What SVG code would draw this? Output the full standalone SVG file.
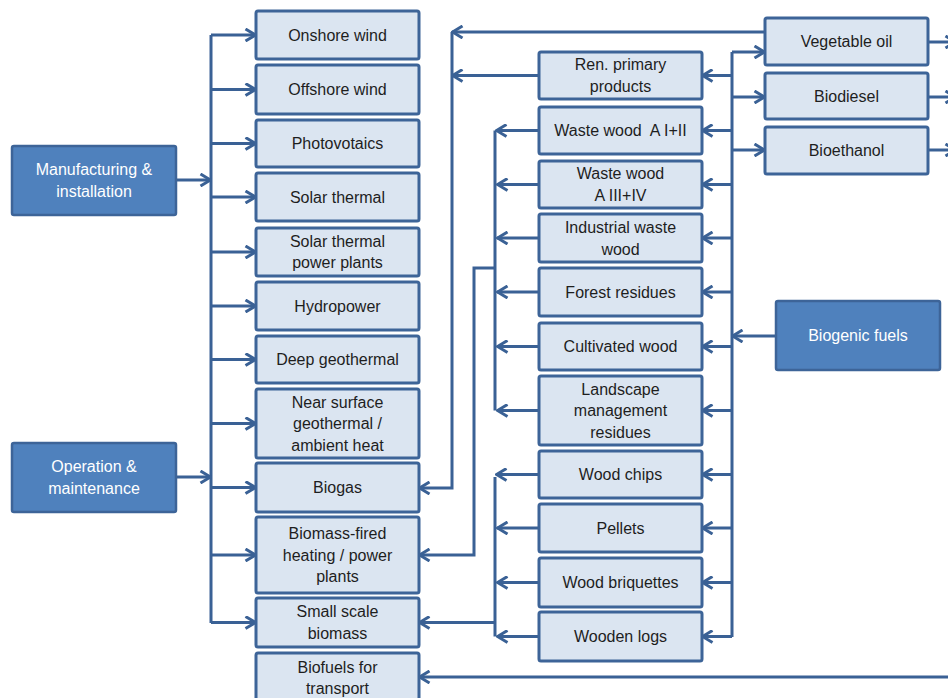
<svg xmlns="http://www.w3.org/2000/svg" width="948" height="698" viewBox="0 0 948 698">
<style>
.box{fill:#dbe5f1;stroke:#3d6498;stroke-width:3}
.dark{fill:#4f81bd;stroke:#3d6498;stroke-width:2.5}
.t{font-family:"Liberation Sans",Arial,sans-serif;font-size:16px;fill:#1e1e1e;text-anchor:middle}
.w{fill:#ffffff}
.c{fill:none;stroke:#3a6195;stroke-width:3;stroke-linejoin:miter}
.a{marker-end:url(#ah)}
</style>
<defs>
<marker id="ah" viewBox="0 0 13 14" refX="12" refY="7" markerWidth="13" markerHeight="14" markerUnits="userSpaceOnUse" orient="auto">
<path d="M1.5,1 L11.5,7 L1.5,13" fill="none" stroke="#3a6195" stroke-width="3"/>
</marker>
</defs>
<rect width="948" height="698" fill="#ffffff"/>
<g id="connectors">
<path class="c" d="M211,35 V623"/>
<path class="c a" d="M176,180 H211"/>
<path class="c a" d="M176,477 H211"/>
<path class="c a" d="M211,35 H256"/>
<path class="c a" d="M211,89.5 H256"/>
<path class="c a" d="M211,143.5 H256"/>
<path class="c a" d="M211,197 H256"/>
<path class="c a" d="M211,252 H256"/>
<path class="c a" d="M211,306 H256"/>
<path class="c a" d="M211,359.5 H256"/>
<path class="c a" d="M211,423.5 H256"/>
<path class="c a" d="M211,487.5 H256"/>
<path class="c a" d="M211,555 H256"/>
<path class="c a" d="M211,622.5 H256"/>
<path class="c a" d="M765,32 H452"/>
<path class="c a" d="M539,75.5 H452"/>
<path class="c a" d="M452,32 V488 H419"/>
<path class="c" d="M732,52 V637"/>
<path class="c a" d="M732,52 H765"/>
<path class="c a" d="M732,97 H765"/>
<path class="c a" d="M732,150 H765"/>
<path class="c a" d="M776,336 H732"/>
<path class="c a" d="M732,75.5 H702"/>
<path class="c a" d="M732,130.5 H702"/>
<path class="c a" d="M732,184.5 H702"/>
<path class="c a" d="M732,238 H702"/>
<path class="c a" d="M732,292 H702"/>
<path class="c a" d="M732,346.5 H702"/>
<path class="c a" d="M732,410.5 H702"/>
<path class="c a" d="M732,474.5 H702"/>
<path class="c a" d="M732,528 H702"/>
<path class="c a" d="M732,582.5 H702"/>
<path class="c a" d="M732,636.5 H702"/>
<path class="c a" d="M928,42 H956"/>
<path class="c a" d="M928,97 H956"/>
<path class="c a" d="M928,150 H956"/>
<path class="c" d="M495,130.5 V410.5"/>
<path class="c a" d="M539,130.5 H496"/>
<path class="c a" d="M539,184.5 H497"/>
<path class="c a" d="M539,238 H497"/>
<path class="c a" d="M539,292 H497"/>
<path class="c a" d="M539,346.5 H497"/>
<path class="c a" d="M539,410.5 H497"/>
<path class="c a" d="M495,268 H474 V555 H419"/>
<path class="c" d="M495,477 V636.5"/>
<path class="c a" d="M539,474.5 H496"/>
<path class="c a" d="M539,528 H497"/>
<path class="c a" d="M539,582.5 H497"/>
<path class="c a" d="M539,636.5 H497"/>
<path class="c a" d="M495,622.5 H419"/>
<path class="c a" d="M948,677 H419"/>
</g>
<g id="manufacturing"><rect class="dark" x="12" y="146" width="164" height="69" rx="2"/><text class="t w"><tspan x="94" y="175.25">Manufacturing &amp;</tspan><tspan x="94" y="196.75">installation</tspan></text></g>
<g id="operation"><rect class="dark" x="12" y="443" width="164" height="69" rx="2"/><text class="t w"><tspan x="94" y="472.25">Operation &amp;</tspan><tspan x="94" y="493.75">maintenance</tspan></text></g>
<g id="onshore"><rect class="box" x="256" y="11" width="163" height="48" rx="2"/><text class="t" x="337.5" y="40.5">Onshore wind</text></g>
<g id="offshore"><rect class="box" x="256" y="65" width="163" height="49" rx="2"/><text class="t" x="337.5" y="95">Offshore wind</text></g>
<g id="pv"><rect class="box" x="256" y="120" width="163" height="47" rx="2"/><text class="t" x="337.5" y="149">Photovotaics</text></g>
<g id="solarthermal"><rect class="box" x="256" y="173" width="163" height="48" rx="2"/><text class="t" x="337.5" y="202.5">Solar thermal</text></g>
<g id="solarpp"><rect class="box" x="256" y="228" width="163" height="48" rx="2"/><text class="t"><tspan x="337.5" y="246.75">Solar thermal</tspan><tspan x="337.5" y="268.25">power plants</tspan></text></g>
<g id="hydro"><rect class="box" x="256" y="282" width="163" height="48" rx="2"/><text class="t" x="337.5" y="311.5">Hydropower</text></g>
<g id="deepgeo"><rect class="box" x="256" y="336" width="163" height="47" rx="2"/><text class="t" x="337.5" y="365">Deep geothermal</text></g>
<g id="nearsurface"><rect class="box" x="256" y="389" width="163" height="69" rx="2"/><text class="t"><tspan x="337.5" y="407.5">Near surface</tspan><tspan x="337.5" y="429">geothermal /</tspan><tspan x="337.5" y="450.5">ambient heat</tspan></text></g>
<g id="biogas"><rect class="box" x="256" y="463" width="163" height="49" rx="2"/><text class="t" x="337.5" y="493">Biogas</text></g>
<g id="biomassfired"><rect class="box" x="256" y="517" width="163" height="76" rx="2"/><text class="t"><tspan x="337.5" y="539">Biomass-fired</tspan><tspan x="337.5" y="560.5">heating / power</tspan><tspan x="337.5" y="582">plants</tspan></text></g>
<g id="smallscale"><rect class="box" x="256" y="598" width="163" height="49" rx="2"/><text class="t"><tspan x="337.5" y="617.25">Small scale</tspan><tspan x="337.5" y="638.75">biomass</tspan></text></g>
<g id="biofuels"><rect class="box" x="256" y="653" width="163" height="52" rx="2"/><text class="t"><tspan x="337.5" y="672.5">Biofuels for</tspan><tspan x="337.5" y="694">transport</tspan></text></g>
<g id="renprimary"><rect class="box" x="539" y="52" width="163" height="47" rx="2"/><text class="t"><tspan x="620.5" y="70.25">Ren. primary</tspan><tspan x="620.5" y="91.75">products</tspan></text></g>
<g id="ww12"><rect class="box" x="539" y="107" width="163" height="47" rx="2"/><text class="t" x="620.5" y="136" style="white-space:pre">Waste wood  A I+II</text></g>
<g id="ww34"><rect class="box" x="539" y="161" width="163" height="47" rx="2"/><text class="t"><tspan x="620.5" y="178.5">Waste wood</tspan><tspan x="620.5" y="200.5">A III+IV</tspan></text></g>
<g id="industrial"><rect class="box" x="539" y="214" width="163" height="48" rx="2"/><text class="t"><tspan x="620.5" y="233">Industrial waste</tspan><tspan x="620.5" y="254.5">wood</tspan></text></g>
<g id="forest"><rect class="box" x="539" y="268" width="163" height="48" rx="2"/><text class="t" x="620.5" y="297.5">Forest residues</text></g>
<g id="cultivated"><rect class="box" x="539" y="323" width="163" height="47" rx="2"/><text class="t" x="620.5" y="352">Cultivated wood</text></g>
<g id="landscape"><rect class="box" x="539" y="376" width="163" height="69" rx="2"/><text class="t"><tspan x="620.5" y="394.5">Landscape</tspan><tspan x="620.5" y="416">management</tspan><tspan x="620.5" y="437.5">residues</tspan></text></g>
<g id="woodchips"><rect class="box" x="539" y="451" width="163" height="47" rx="2"/><text class="t" x="620.5" y="480">Wood chips</text></g>
<g id="pellets"><rect class="box" x="539" y="504" width="163" height="48" rx="2"/><text class="t" x="620.5" y="533.5">Pellets</text></g>
<g id="briquettes"><rect class="box" x="539" y="558" width="163" height="49" rx="2"/><text class="t" x="620.5" y="588">Wood briquettes</text></g>
<g id="logs"><rect class="box" x="539" y="612" width="163" height="49" rx="2"/><text class="t" x="620.5" y="642">Wooden logs</text></g>
<g id="vegoil"><rect class="box" x="765" y="18" width="163" height="47" rx="2"/><text class="t" x="846.5" y="47">Vegetable oil</text></g>
<g id="biodiesel"><rect class="box" x="765" y="73" width="163" height="46" rx="2"/><text class="t" x="846.5" y="101.5">Biodiesel</text></g>
<g id="bioethanol"><rect class="box" x="765" y="127" width="163" height="47" rx="2"/><text class="t" x="846.5" y="156">Bioethanol</text></g>
<g id="biogenic"><rect class="dark" x="776" y="301" width="164" height="69" rx="2"/><text class="t w" x="858" y="341">Biogenic fuels</text></g>
</svg>
